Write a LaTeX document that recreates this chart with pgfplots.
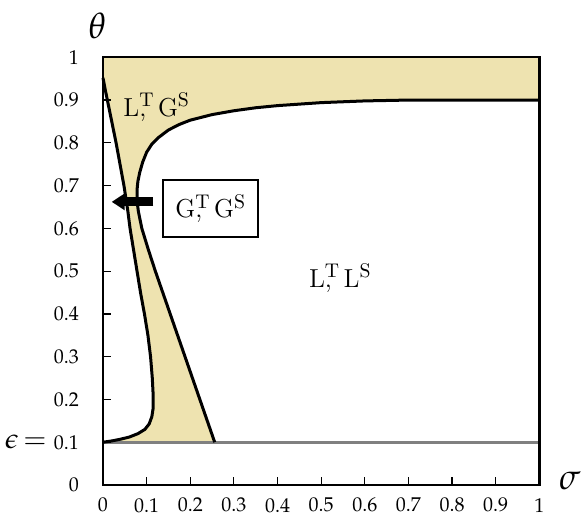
\documentclass[border=0pt]{standalone}
\usepackage{mathpazo}
\usepackage{pgfplots}
\pgfplotsset{compat=1.18}
\usetikzlibrary{arrows.meta}
\definecolor{regfill}{RGB}{238,227,176}
\newcommand{\pair}[2]{#1\rlap{\textsuperscript{T}},\hspace{0.45em}#2\textsuperscript{S}}
\begin{document}
\begin{tikzpicture}
\begin{axis}[
  scale only axis, width=218.15pt, height=213.85pt,
  xmin=0, xmax=1, ymin=0, ymax=1,
  axis line style={line width=1.2pt},
  tick align=inside, xtick pos=bottom, ytick pos=left,
  major tick length=4pt,
  tick style={line width=0.6pt, black},
  xtick={0,0.1,0.2,0.3,0.4,0.5,0.6,0.7,0.8,0.9,1},
  ytick={0,0.1,0.2,0.3,0.4,0.5,0.6,0.7,0.8,0.9,1},
  ticklabel style={font=\fontsize{10}{12}\selectfont},
  xticklabel style={yshift=-3pt},
  yticklabel style={xshift=-8.5pt},
  axis on top,
  clip=false,
]
% shaded regions
\addplot[fill=regfill, draw=none] coordinates {
  (0,1)(1,1)(1,0.900)(0.700,0.900)(0.600,0.898)(0.500,0.894)(0.400,0.887)
  (0.350,0.882)(0.300,0.875)(0.250,0.866)(0.200,0.853)(0.175,0.843)(0.150,0.830)
  (0.128,0.813)(0.112,0.797)(0.100,0.778)(0.091,0.755)(0.084,0.730)(0.080,0.710)
  (0.078,0.690)(0.078,0.665)(0.081,0.640)(0.089,0.600)(0.104,0.550)(0.120,0.500)
  (0.154,0.400)(0.188,0.300)(0.222,0.200)(0.256,0.100)
  (0,0.100)(0.020,0.103)(0.040,0.107)(0.060,0.112)(0.080,0.120)(0.096,0.130)
  (0.106,0.143)(0.112,0.160)(0.115,0.180)(0.115,0.210)(0.113,0.250)(0.109,0.300)
  (0.103,0.350)(0.095,0.400)(0.086,0.450)(0.078,0.500)(0.070,0.550)(0.062,0.600)
  (0.057,0.640)(0.053,0.667)(0.048,0.700)(0.039,0.750)(0.030,0.800)(0.020,0.850)
  (0.010,0.900)(0.005,0.925)(0,0.952)
} --cycle;
% epsilon line
\addplot[gray, line width=1.5pt] coordinates {(0,0.1)(1,0.1)};
% boundary A
\addplot[black, line width=1.5pt, line join=round] coordinates {
  (0,0.952)(0.005,0.925)(0.010,0.900)(0.020,0.850)(0.030,0.800)(0.039,0.750)
  (0.048,0.700)(0.053,0.667)(0.057,0.640)(0.062,0.600)(0.070,0.550)(0.078,0.500)
  (0.086,0.450)(0.095,0.400)(0.103,0.350)(0.109,0.300)(0.113,0.250)(0.115,0.210)
  (0.115,0.180)(0.112,0.160)(0.106,0.143)(0.096,0.130)(0.080,0.120)(0.060,0.112)
  (0.040,0.107)(0.020,0.103)(0,0.100)
};
% boundary B
\addplot[black, line width=1.5pt, line join=round] coordinates {
  (0.256,0.100)(0.222,0.200)(0.188,0.300)(0.154,0.400)(0.120,0.500)(0.104,0.550)
  (0.089,0.600)(0.081,0.640)(0.078,0.665)(0.078,0.690)(0.080,0.710)(0.084,0.730)
  (0.091,0.755)(0.100,0.778)(0.112,0.797)(0.128,0.813)(0.150,0.830)(0.175,0.843)
  (0.200,0.853)(0.250,0.866)(0.300,0.875)(0.350,0.882)(0.400,0.887)(0.500,0.894)
  (0.600,0.898)(0.700,0.900)(1,0.900)
};
% arrow
\addplot[black, line width=4.5pt, -{Triangle[length=6.5pt,width=8pt]}] coordinates {(0.1155,0.662)(0.020,0.662)};
\node[font=\fontsize{13}{15}\selectfont] at (axis cs:0.123,0.884) {\pair{L}{G}};
\node[font=\fontsize{13}{15}\selectfont] at (axis cs:0.544,0.484) {\pair{L}{L}};
\node[draw, line width=1.2pt, fill=white, minimum width=47.5pt, minimum height=28.5pt,
      font=\fontsize{13}{15}\selectfont] at (axis cs:0.247,0.647) {\pair{G}{G}};
\node[font=\fontsize{18}{20}\selectfont] at (axis cs:-0.0126,1.073) {$\theta$};
\node[font=\fontsize{18}{20}\selectfont] at (axis cs:1.07,0.009) {$\sigma$};
\node[font=\fontsize{14}{16}\selectfont, anchor=east, inner sep=0pt] at (axis cs:-0.128,0.1) {$\epsilon\,{=}$};
\coordinate (sw) at (rel axis cs:0,0);
\coordinate (ne) at (rel axis cs:1,1);
\end{axis}
\pgfresetboundingbox
\path ([xshift=-51.5pt,yshift=-16pt]sw) rectangle ([xshift=22.35pt,yshift=28.65pt]ne);
\end{tikzpicture}
\end{document}
